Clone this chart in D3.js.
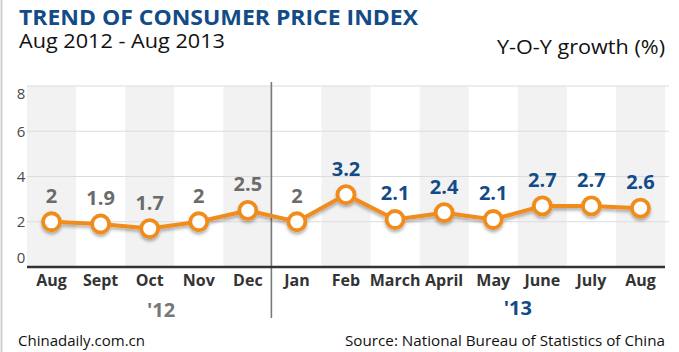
<!DOCTYPE html>
<html>
<head>
<meta charset="utf-8">
<script src="https://cdn.jsdelivr.net/npm/d3@7"></script>
<style>
  body { margin: 0; background: #fff; }
  text { font-family: "Open Sans", "Noto Sans", sans-serif; }
</style>
</head>
<body>
<div id="chart"></div>
<script>

  // ---------------------------//
  //            DATA            //
  // ---------------------------//

  var months = ["Aug", "Sept", "Oct", "Nov", "Dec", "Jan", "Feb", "March", "April", "May", "June", "July", "Aug"];
  var cpi = [2, 1.9, 1.7, 2, 2.5, 2, 3.2, 2.1, 2.4, 2.1, 2.7, 2.7, 2.6];
  var yTicks = [0, 2, 4, 6, 8];
  var yearLabels = ["'12", "'13"];

  var data = months.map(function(m, i) { return { key: i, month: m, value: cpi[i] }; });

  // ---------------------------//
  //         DIMENSIONS         //
  // ---------------------------//

  var width = 679;
  var height = 352;
  var margin = { top: 86, right: 14, bottom: 85, left: 27 };

  var orange = "#f08c1e";
  var blue = "#134b87";
  var grey = "#6b6b6b";

  var svg = d3.select("#chart")
    .append("svg")
    .attr("width", width)
    .attr("height", height);

  var defs = svg.append("defs");
  var f = defs.append("filter").attr("id", "shadow")
    .attr("x", "-5%").attr("y", "-20%").attr("width", "110%").attr("height", "160%");
  f.append("feDropShadow").attr("dx", 0).attr("dy", 2.5).attr("stdDeviation", 1.5)
    .attr("flood-color", "#000").attr("flood-opacity", 0.3);

  // ---------------------------//
  //       AXIS  AND SCALE      //
  // ---------------------------//

  var x = d3.scaleBand()
    .domain(data.map(function(d) { return d.key; }))
    .range([margin.left, width - margin.right])
    .padding(0);

  var y = d3.scaleLinear()
    .domain([0, 8])
    .range([height - margin.bottom, margin.top]);

  // left frame
  svg.append("line")
    .attr("x1", 1.5).attr("x2", 1.5).attr("y1", 0).attr("y2", height)
    .attr("stroke", "#cfcfcf").attr("stroke-width", 2);

  // alternating bands
  svg.selectAll("rect.band")
    .data(data.filter(function(d) { return d.key % 2 === 0; }))
    .enter()
    .append("rect")
    .attr("class", "band")
    .attr("x", function(d) { return x(d.key); })
    .attr("width", x.bandwidth())
    .attr("y", y(8))
    .attr("height", y(0) - y(8))
    .attr("fill", "#f2f2f2");

  // gridlines
  svg.selectAll("line.grid")
    .data(yTicks.filter(function(t) { return t > 0; }))
    .enter()
    .append("line")
    .attr("class", "grid")
    .attr("x1", margin.left).attr("x2", width - margin.right + 4)
    .attr("y1", function(d) { return y(d); })
    .attr("y2", function(d) { return y(d); })
    .attr("stroke", "#dcdcdc").attr("stroke-width", 1.2);

  // y tick labels
  svg.selectAll("text.ytick")
    .data(yTicks)
    .enter()
    .append("text")
    .attr("class", "ytick")
    .attr("x", 21)
    .attr("y", function(d) { return Math.min(Math.max(y(d), y(8) + 8), y(0) - 9); })
    .attr("dy", "0.35em")
    .attr("text-anchor", "middle")
    .style("font-size", "15px")
    .style("fill", "#4a4a4a")
    .text(function(d) { return d; });

  // divider between years
  var divX = x(5) - 1;
  svg.append("line")
    .attr("x1", divX).attr("x2", divX)
    .attr("y1", 82).attr("y2", 318)
    .attr("stroke", "#7a7a7a").attr("stroke-width", 1.6);

  // base axis
  svg.append("line")
    .attr("x1", margin.left).attr("x2", width - margin.right)
    .attr("y1", y(0)).attr("y2", y(0))
    .attr("stroke", "#333").attr("stroke-width", 2.5);

  // month labels
  svg.selectAll("text.month")
    .data(data)
    .enter()
    .append("text")
    .attr("class", "month")
    .attr("x", function(d) { return x(d.key) + x.bandwidth() / 2; })
    .attr("y", 286)
    .attr("text-anchor", "middle")
    .style("font-size", "16px")
    .style("font-weight", "bold")
    .style("fill", "#333")
    .text(function(d) { return d.month; });

  // year labels
  var bw = x.bandwidth();
  svg.selectAll("text.year")
    .data(yearLabels)
    .enter()
    .append("text")
    .attr("class", "year")
    .attr("x", function(d, i) { return i === 0 ? x(2) + bw * 0.73 : x(10); })
    .attr("y", function(d, i) { return i === 0 ? 317 : 315; })
    .attr("text-anchor", "middle")
    .style("font-size", "20px")
    .style("font-weight", "bold")
    .style("fill", function(d, i) { return i === 0 ? "#777" : blue; })
    .text(function(d) { return d; });

  // ---------------------------//
  //         LINE + DOTS        //
  // ---------------------------//

  var cx = function(d) { return x(d.key) + bw / 2; };

  var line = d3.line()
    .x(cx)
    .y(function(d) { return y(d.value); });

  var series = svg.append("g").attr("filter", "url(#shadow)");

  series.append("path")
    .datum(data)
    .attr("fill", "none")
    .attr("stroke", orange)
    .attr("stroke-width", 4)
    .attr("stroke-linejoin", "round")
    .attr("d", line);

  series.selectAll("circle")
    .data(data)
    .enter()
    .append("circle")
    .attr("cx", cx)
    .attr("cy", function(d) { return y(d.value); })
    .attr("r", 8.5)
    .attr("fill", "#fff")
    .attr("stroke", orange)
    .attr("stroke-width", 3.8);

  svg.selectAll("text.val")
    .data(data)
    .enter()
    .append("text")
    .attr("class", "val")
    .attr("x", cx)
    .attr("y", function(d) { return y(d.value) - 19; })
    .attr("text-anchor", "middle")
    .style("font-size", "20px")
    .style("font-weight", "bold")
    .style("fill", function(d) { return d.key < 6 ? grey : blue; })
    .text(function(d) { return d.value; });

  // ---------------------------//
  //            TITLE           //
  // ---------------------------//

  svg.append("text")
    .attr("x", 19).attr("y", 25)
    .attr("textLength", 399).attr("lengthAdjust", "spacingAndGlyphs")
    .style("font-size", "21px").style("font-weight", "bold")
    .style("fill", blue)
    .text("TREND OF CONSUMER PRICE INDEX");

  svg.append("text")
    .attr("x", 19).attr("y", 48)
    .attr("textLength", 206).attr("lengthAdjust", "spacingAndGlyphs")
    .style("font-size", "20px")
    .style("fill", "#111")
    .text("Aug 2012 - Aug 2013");

  svg.append("text")
    .attr("x", 497).attr("y", 54)
    .attr("textLength", 168).attr("lengthAdjust", "spacingAndGlyphs")
    .style("font-size", "20px")
    .style("fill", "#111")
    .text("Y-O-Y growth (%)");

  svg.append("text")
    .attr("x", 18).attr("y", 346)
    .attr("textLength", 127).attr("lengthAdjust", "spacingAndGlyphs")
    .style("font-size", "15px")
    .style("fill", "#111")
    .text("Chinadaily.com.cn");

  svg.append("text")
    .attr("x", 345).attr("y", 346)
    .attr("textLength", 320).attr("lengthAdjust", "spacingAndGlyphs")
    .style("font-size", "15px")
    .style("fill", "#111")
    .text("Source: National Bureau of Statistics of China");

</script>
</body>
</html>
